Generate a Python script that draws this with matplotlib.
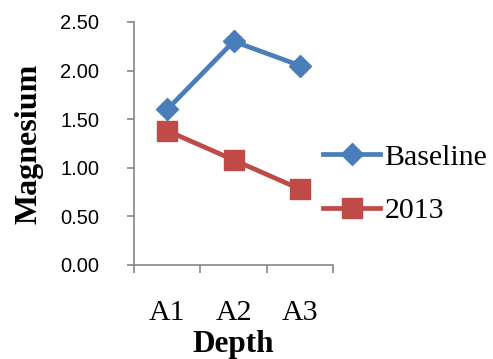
import matplotlib.pyplot as plt

# マグネシウム濃度（深さ別）
depths = ['A1', 'A2', 'A3']
baseline = [1.60, 2.30, 2.05]
mg_2013 = [1.38, 1.08, 0.78]
y_ticks = [0.00, 0.50, 1.00, 1.50, 2.00, 2.50]

axis_gray = '#868686'

fig = plt.figure(figsize=(4.93, 3.59), dpi=100)
ax = fig.add_axes([0.272, 0.262, 0.404, 0.677])

x = range(len(depths))
ax.plot(x, baseline, color='#4A7EBB', linewidth=3.4, marker='D',
        markersize=11.5, label='Baseline')
ax.plot(x, mg_2013, color='#BE4B48', linewidth=3.4, marker='s',
        markersize=15, label='2013')

ax.set_xlim(-0.5, len(depths) - 0.5)
ax.set_ylim(0, 2.5)
ax.set_yticks(y_ticks)
ax.set_yticklabels([f'{v:.2f}' for v in y_ticks],
                   fontfamily='Liberation Sans', fontsize=14.5)
ax.set_xticks(list(x))
ax.set_xticklabels(depths, fontfamily='Liberation Serif', fontsize=21.5)
ax.set_xticks([i - 0.5 for i in range(len(depths) + 1)], minor=True)

ax.tick_params(axis='x', which='major', length=0, pad=25)
ax.tick_params(axis='x', which='minor', length=6, width=1.2, color=axis_gray)
ax.tick_params(axis='y', length=5, width=1.2, color=axis_gray, pad=20)

for side in ['top', 'right']:
    ax.spines[side].set_visible(False)
for side in ['left', 'bottom']:
    ax.spines[side].set_color(axis_gray)
    ax.spines[side].set_linewidth(1.2)

ax.set_xlabel('Depth', fontfamily='Liberation Serif', fontweight='bold',
              fontsize=22.5, labelpad=3)
ax.set_ylabel('Magnesium', fontfamily='Liberation Serif', fontweight='bold',
              fontsize=23, labelpad=12)

ax.legend(loc='center left', bbox_to_anchor=(0.95, 0.333), frameon=False,
          prop={'family': 'Liberation Serif', 'size': 21.5},
          borderpad=0, borderaxespad=0,
          handlelength=1.9, handletextpad=0.15, labelspacing=0.9)

plt.savefig('out.png', dpi=100)
